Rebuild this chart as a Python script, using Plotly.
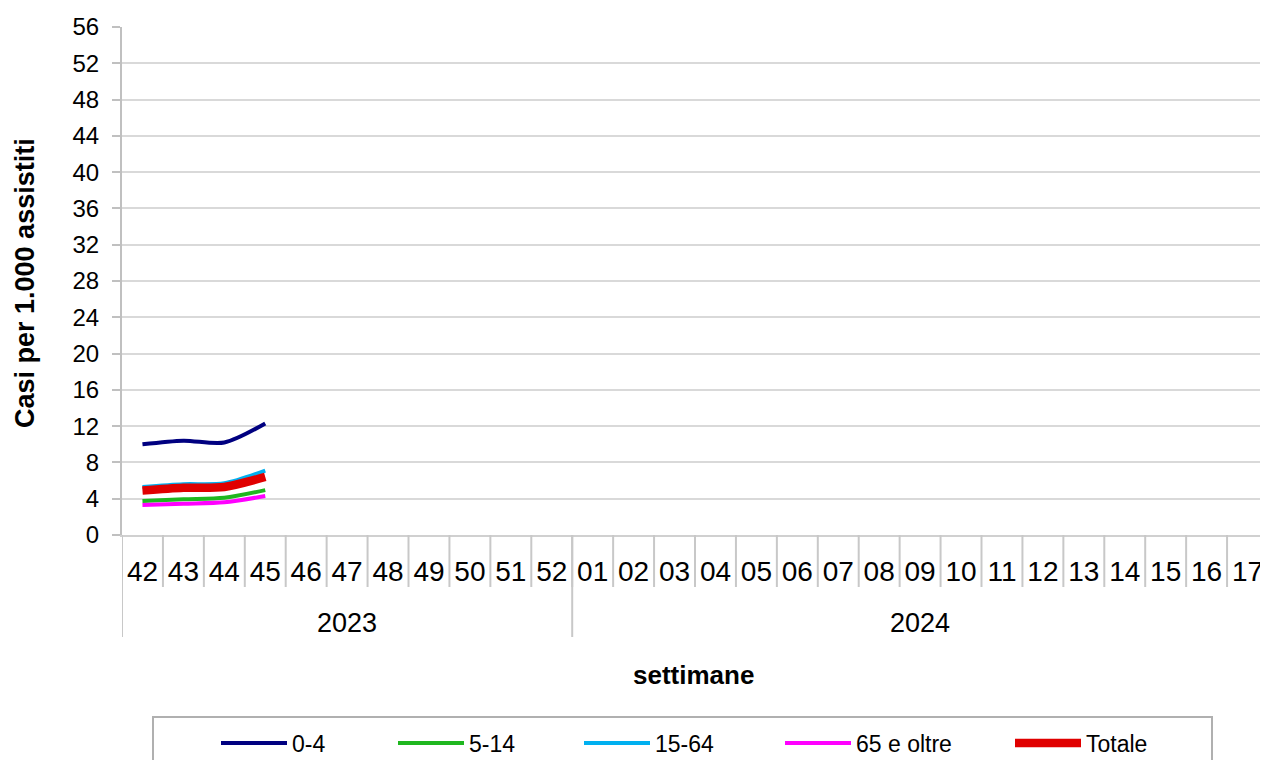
import plotly.graph_objects as go

years = ["2023"] * 11 + ["2024"] * 17
weeks = [str(w) for w in range(42, 53)] + [f"{w:02d}" for w in range(1, 18)]

pad = [None] * (len(weeks) - 4)
s_0_4 = [10.0, 10.4, 10.2, 12.3] + pad
s_5_14 = [3.75, 3.95, 4.1, 4.95] + pad
s_15_64 = [5.3, 5.6, 5.7, 7.1] + pad
s_65 = [3.3, 3.45, 3.6, 4.3] + pad
s_tot = [4.9, 5.2, 5.3, 6.4] + pad

names = ["0-4", "5-14", "15-64", "65 e oltre", "Totale"]
colors = ["#000080", "#1fb71f", "#00b0f0", "#ff00ff", "#e00000"]
widths = [4, 4, 4, 4, 8.5]
series = [s_0_4, s_5_14, s_15_64, s_65, s_tot]

# the page body has an 8px margin: work in window pixels and convert
OFF = 8
W, H = 1268 - OFF, 760 - OFF
L, T = 122 - OFF, 27 - OFF
PLOT_BOTTOM = 535 - OFF
B = H - PLOT_BOTTOM
PW, PH = W - L, PLOT_BOTTOM - T

def px(x):  # window pixel x -> paper
    return (x - OFF - L) / PW

def py(y):  # window pixel y -> paper
    return (PLOT_BOTTOM - (y - OFF)) / PH

legend_x = [222, 399, 585, 786, 1016]

fig = go.Figure()
for i, (n, c, w, s) in enumerate(zip(names, colors, widths, series)):
    lg = "legend" if i == 0 else f"legend{i+1}"
    fig.add_trace(go.Scatter(
        x=weeks, y=s, name=n, mode="lines", legend=lg,
        line=dict(color=c, width=w, shape="spline", smoothing=0.8),
    ))

legends = {}
for i, lx in enumerate(legend_x):
    key = "legend" if i == 0 else f"legend{i+1}"
    legends[key] = dict(
        orientation="h", x=px(lx - 6), xanchor="left", y=py(743), yanchor="middle",
        bgcolor="rgba(0,0,0,0)", borderwidth=0,
        font=dict(size=23), itemwidth=66,
    )

fig.update_layout(
    width=W, height=H,
    margin=dict(l=L, r=0, t=T, b=B, autoexpand=False),
    plot_bgcolor="white", paper_bgcolor="white",
    font=dict(family="Liberation Sans, Arial, sans-serif", color="black"),
    showlegend=True,
    **legends,
)

fig.update_yaxes(
    range=[0, 56], dtick=4, tickfont=dict(size=24),
    showgrid=True, gridcolor="#d9d9d9", gridwidth=2,
    showline=True, linecolor="#c0c0c0", linewidth=2,
    ticks="outside", ticklen=8, tickcolor="#c0c0c0", tickwidth=2,
    ticklabelstandoff=8,
    zeroline=False, automargin=False,
)
fig.update_xaxes(
    type="category", range=[-0.5, len(weeks) - 0.5],
    tickfont=dict(size=28), ticks="", ticklabelstandoff=10,
    showgrid=False, showline=True, linecolor="#d0d0d0", linewidth=2,
    automargin=False,
)

shapes = []
# boundaries between weeks
for i in range(len(weeks) + 1):
    shapes.append(dict(type="line", xref="x", yref="paper",
                       x0=i - 0.5, x1=i - 0.5, y0=0, y1=py(587),
                       line=dict(color="#c8c8c8", width=2)))
# year dividers
bounds = [0] + [i for i in range(1, len(years)) if years[i] != years[i - 1]] + [len(years)]
for b in bounds:
    shapes.append(dict(type="line", xref="x", yref="paper",
                       x0=b - 0.5, x1=b - 0.5, y0=0, y1=py(637),
                       line=dict(color="#c8c8c8", width=2)))
# legend box
shapes.append(dict(type="rect", xref="paper", yref="paper",
                   x0=px(153), x1=px(1212), y0=py(717), y1=py(800),
                   line=dict(color="#b0b0b0", width=2)))
fig.update_layout(shapes=shapes)

annotations = []
for a, b in zip(bounds[:-1], bounds[1:]):
    annotations.append(dict(xref="x", yref="paper", x=(a + b - 1) / 2, y=py(623),
                            text=years[a], showarrow=False, font=dict(size=27),
                            xanchor="center", yanchor="middle"))
annotations.append(dict(xref="paper", yref="paper", x=px(693), y=py(675),
                        text="<b>settimane</b>", showarrow=False, font=dict(size=26),
                        xanchor="center", yanchor="middle"))
annotations.append(dict(xref="paper", yref="paper", x=px(25), y=py(283),
                        text="<b>Casi per 1.000 assistiti</b>", showarrow=False,
                        font=dict(size=27), textangle=-90,
                        xanchor="center", yanchor="middle"))
fig.update_layout(annotations=annotations)

fig.write_html("out.html")
